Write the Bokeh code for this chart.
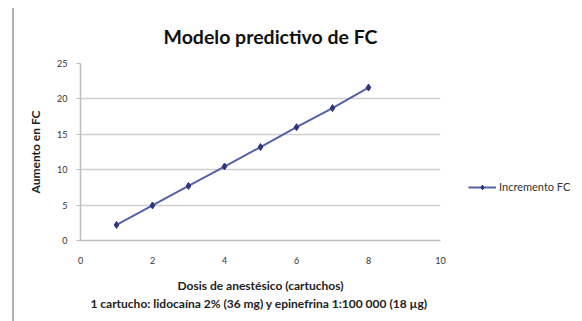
from bokeh.plotting import figure
from bokeh.models import (Range1d, FixedTicker, Legend, LegendItem, InlineStyleSheet)
from bokeh.layouts import row
from bokeh.embed import file_html
from bokeh.resources import INLINE

dosis = [1, 2, 3, 4, 5, 6, 7, 8]
aumento_fc = [2.2, 4.95, 7.7, 10.45, 13.2, 16.0, 18.7, 21.6]
x_ticks = [0, 2, 4, 6, 8, 10]
y_ticks = [0, 5, 10, 15, 20, 25]

title_text = "Modelo predictivo de FC"
x_label = "Dosis de anestésico (cartuchos)\n1 cartucho: lidocaína 2% (36 mg) y  epinefrina 1:100 000 (18 µg)"
y_label = "Aumento en FC"
series_name = "Incremento FC"

FONT = "Lato"
LINE_COLOR = "#5561a8"
MARK_COLOR = "#2e3480"

sheet = InlineStyleSheet(css=""":host::before { content: ''; position: absolute; left: 12px; top: 8px;
 width: 2px; height: 313px; background: #b0b0b0; z-index: 10; }""")

p = figure(width=452, height=321, output_backend="svg", toolbar_location=None,
           x_range=Range1d(0, 10), y_range=Range1d(0, 25),
           min_border_left=80, min_border_right=12, min_border_top=63, min_border_bottom=81,
           title=title_text, stylesheets=[sheet])

p.title.text_font = FONT
p.title.text_font_size = "19.5px"
p.title.text_font_style = "bold"
p.title.text_color = "#111111"
p.title.align = "left"
p.title.offset = 83
p.title.standoff = 32

p.outline_line_color = None
p.background_fill_color = "white"
p.border_fill_color = "white"

p.xgrid.grid_line_color = None
p.ygrid.grid_line_color = "#cfcfcf"
p.ygrid.grid_line_width = 1.5

for ax in (p.xaxis[0], p.yaxis[0]):
    ax.axis_line_color = "#bdbdbd"
    ax.axis_line_width = 1.5
    ax.major_tick_line_color = "#bdbdbd"
    ax.major_tick_out = 4
    ax.major_tick_in = 0
    ax.minor_tick_line_color = None
    ax.major_label_text_font = FONT
    ax.major_label_text_font_size = "9px"
    ax.major_label_text_color = "#333333"
    ax.axis_label_text_font = FONT
    ax.axis_label_text_font_size = "12px"
    ax.axis_label_text_font_style = "bold"
    ax.axis_label_text_color = "#222222"

p.xaxis.ticker = FixedTicker(ticks=x_ticks)
p.yaxis.ticker = FixedTicker(ticks=y_ticks)
p.xaxis.major_label_standoff = 12
p.yaxis.major_label_standoff = 9
p.xaxis.axis_label = x_label
p.yaxis.axis_label = y_label
p.xaxis.axis_label_standoff = 11
p.yaxis.axis_label_standoff = 11
p.xaxis.major_tick_line_color = None

p.line(dosis, aumento_fc, line_color=LINE_COLOR, line_width=2)
p.scatter(dosis, aumento_fc, marker="diamond", size=7,
          fill_color=MARK_COLOR, line_color=MARK_COLOR)

# legend panel on the right (its frame is aligned with the main frame)
lg = figure(width=130, height=321, output_backend="svg", toolbar_location=None,
            x_range=Range1d(0, 1), y_range=Range1d(0, 1),
            min_border_left=0, min_border_right=0, min_border_top=0, min_border_bottom=0)
lg.axis.visible = False
lg.grid.visible = False
lg.outline_line_color = None
lg.border_fill_color = "white"
leg_line = lg.line([dosis[0]], [aumento_fc[0]], line_color=LINE_COLOR, line_width=2)
leg_mark = lg.scatter([dosis[0]], [aumento_fc[0]], marker="diamond", size=7,
                      fill_color=MARK_COLOR, line_color=MARK_COLOR)
legend = Legend(items=[LegendItem(label=series_name, renderers=[leg_line, leg_mark])],
                location=(16, 47), padding=0, margin=0, spacing=0,
                glyph_width=28, glyph_height=12, label_standoff=3,
                background_fill_alpha=0, border_line_color=None,
                label_text_font=FONT, label_text_font_size="11px",
                label_text_color="#333333")
lg.add_layout(legend, "center")

layout = row(p, lg, spacing=0)
open("out.html", "w").write(file_html(layout, INLINE))
